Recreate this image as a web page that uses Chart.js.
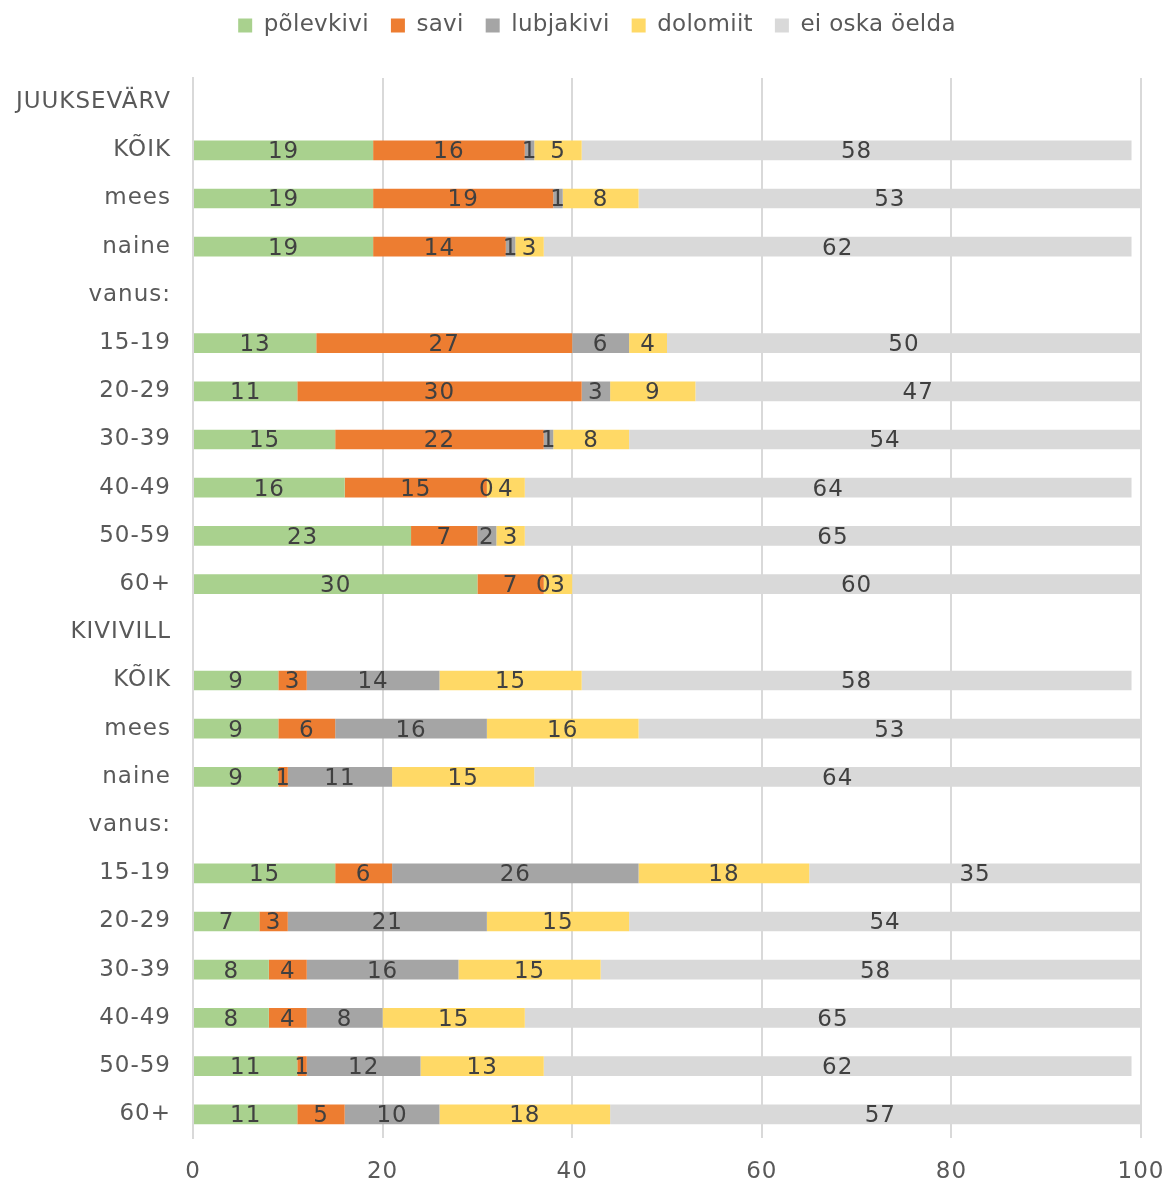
<!DOCTYPE html>
<html>
<head>
<meta charset="utf-8">
<script src="https://cdn.jsdelivr.net/npm/chart.js@4.4.1/dist/chart.umd.min.js"></script>
<style>
  html, body { margin: 0; padding: 0; background: #fff; }
  #wrap { width: 1168px; height: 1181px; }
</style>
</head>
<body>
<div id="wrap"><canvas id="chart"></canvas></div>
<script>
// categories (header rows have no bars)
var categories = ["JUUKSEVÄRV", "KÕIK", "mees", "naine", "vanus:", "15-19", "20-29", "30-39", "40-49", "50-59", "60+",
                  "KIVIVILL", "KÕIK", "mees", "naine", "vanus:", "15-19", "20-29", "30-39", "40-49", "50-59", "60+"];

var seriesNames = ["põlevkivi", "savi", "lubjakivi", "dolomiit", "ei oska öelda"];
var seriesColors = ["#A9D18E", "#ED7D31", "#A5A5A5", "#FFD966", "#D9D9D9"];

var polevkivi = [null, 19, 19, 19, null, 13, 11, 15, 16, 23, 30,  null, 9, 9, 9, null, 15, 7, 8, 8, 11, 11];
var savi      = [null, 16, 19, 14, null, 27, 30, 22, 15, 7, 7,    null, 3, 6, 1, null, 6, 3, 4, 4, 1, 5];
var lubjakivi = [null, 1, 1, 1, null, 6, 3, 1, 0, 2, 0,           null, 14, 16, 11, null, 26, 21, 16, 8, 12, 10];
var dolomiit  = [null, 5, 8, 3, null, 4, 9, 8, 4, 3, 3,           null, 15, 16, 15, null, 18, 15, 15, 15, 13, 18];
var eiOska    = [null, 58, 53, 62, null, 50, 47, 54, 64, 65, 60,  null, 58, 53, 64, null, 35, 54, 58, 65, 62, 57];

var xTicks = [0, 20, 40, 60, 80, 100];

var FONT = "'DejaVu Sans', Verdana, sans-serif";
var FSIZE = 23;

var allSeries = [polevkivi, savi, lubjakivi, dolomiit, eiOska];
var datasets = [];
for (var i = 0; i < allSeries.length; i++) {
	datasets.push({
		label: seriesNames[i],
		data: allSeries[i],
		backgroundColor: seriesColors[i],
		borderWidth: 0,
		barPercentage: 0.85,
		categoryPercentage: 0.48
	});
}

// a little wider text, like the original
var spacing = {
	id: 'spacing',
	beforeUpdate: function(chart) { chart.ctx.letterSpacing = '1px'; },
	beforeDraw: function(chart) { chart.ctx.letterSpacing = '1px'; },
	afterInit: function(chart) {
		var lg = chart.legend;
		if (lg) {
			var fit = lg.fit;
			var draw = lg.draw;
			lg.fit = function() {
				chart.ctx.letterSpacing = '0.3px';
				fit.call(this);
				chart.ctx.letterSpacing = '1px';
				// extra room under the legend
				this.height += 31;
			};
			lg.draw = function() {
				var ctx = chart.ctx;
				ctx.save();
				ctx.letterSpacing = '0.3px';
				ctx.translate(8, 0);
				draw.apply(this, arguments);
				ctx.restore();
			};
		}
	}
};

// draws the value in the middle of every segment
var barLabels = {
	id: 'barLabels',
	afterDatasetsDraw: function(chart) {
		var ctx = chart.ctx;
		ctx.save();
		ctx.font = FSIZE + "px " + FONT;
		ctx.fillStyle = "#404040";
		ctx.textAlign = "center";
		ctx.textBaseline = "middle";
		chart.data.datasets.forEach(function(ds, di) {
			var meta = chart.getDatasetMeta(di);
			meta.data.forEach(function(bar, idx) {
				var v = ds.data[idx];
				if (v === null || v === undefined) return;
				var p = bar.getProps(['x', 'y', 'base'], true);
				ctx.fillText(String(v), (p.x + p.base) / 2, p.y + 2);
			});
		});
		ctx.restore();
	}
};

new Chart(document.getElementById("chart"), {
	type: 'bar',
	data: { labels: categories, datasets: datasets },
	plugins: [spacing, barLabels],
	options: {
		indexAxis: 'y',
		responsive: true,
		maintainAspectRatio: false,
		animation: false,
		layout: { padding: { left: 10, right: 0, top: -8, bottom: -25 } },
		plugins: {
			legend: {
				position: 'top',
				labels: {
					font: { family: FONT, size: FSIZE },
					color: "#595959",
					boxWidth: 14,
					boxHeight: 14,
					padding: 22
				}
			},
			tooltip: { enabled: false }
		},
		scales: {
			x: {
				stacked: true,
				min: 0,
				max: 100,
				afterBuildTicks: function(scale) {
					scale.ticks = xTicks.map(function(v) { return { value: v }; });
				},
				afterFit: function(scale) { scale.paddingRight = 27; },
				grid: { color: "#D9D9D9", lineWidth: 2, drawTicks: false },
				border: { display: false },
				ticks: { font: { family: FONT, size: FSIZE }, color: "#595959", padding: 20 }
			},
			y: {
				stacked: true,
				grid: { display: false, drawTicks: false },
				border: { display: true, color: "#D9D9D9", width: 2 },
				afterFit: function(scale) { scale.width = 183; },
				ticks: { font: { family: FONT, size: FSIZE }, color: "#595959", padding: 22, autoSkip: false }
			}
		}
	}
});
</script>
</body>
</html>
